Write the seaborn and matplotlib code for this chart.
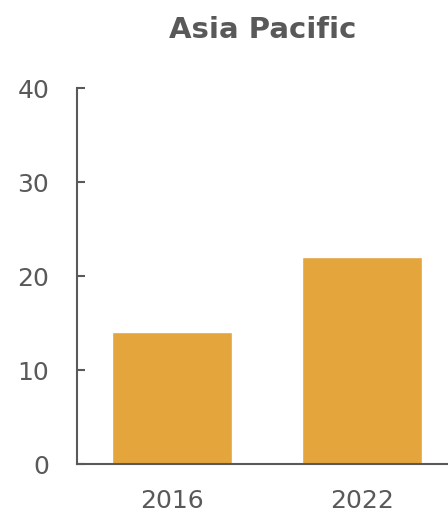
import matplotlib
matplotlib.use("Agg")
import matplotlib.pyplot as plt
import seaborn as sns
import pandas as pd

years = ["2016", "2022"]
values = [14, 22]
title = "Asia Pacific"
y_ticks = [0, 10, 20, 30, 40]

bar_color = "#E3A53C"
text_color = "#595959"

sns.set_theme(style="white")
plt.rcParams["font.family"] = ["DejaVu Sans"]

df = pd.DataFrame({"year": years, "value": values})

fig = plt.figure(figsize=(4.48, 5.15), dpi=100)
ax = fig.add_axes([0.172, 0.099, 0.828, 0.730])

sns.barplot(data=df, x="year", y="value", color=bar_color, width=0.63,
            saturation=1, ax=ax)

ax.set_xlim(-0.5, 1.45)
ax.set_ylim(0, 40)
ax.set_yticks(y_ticks)
ax.set_xlabel("")
ax.set_ylabel("")

for side in ["top", "right"]:
    ax.spines[side].set_visible(False)
for side in ["left", "bottom"]:
    ax.spines[side].set_color(text_color)
    ax.spines[side].set_linewidth(1.5)

ax.tick_params(axis="y", direction="in", length=6, width=1.5, color=text_color,
               labelsize=18, labelcolor=text_color, pad=20, left=True)
ax.tick_params(axis="x", length=0, labelsize=18, labelcolor=text_color, pad=18)

ax.set_title(title, fontsize=21, fontweight="bold", color=text_color, pad=36)

fig.savefig("out.png", dpi=100)
